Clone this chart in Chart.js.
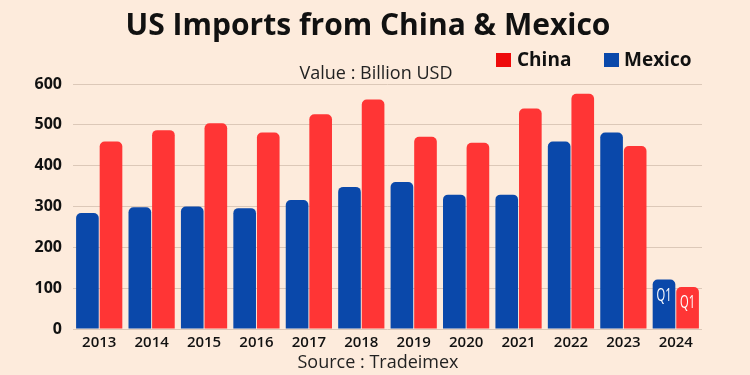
<!DOCTYPE html>
<html>
<head>
<meta charset="utf-8">
<script src="https://cdn.jsdelivr.net/npm/chart.js@4"></script>
<style>
  html, body { margin: 0; padding: 0; background: #fdebdc; }
  #wrap { width: 750px; height: 375px; position: relative; }
</style>
</head>
<body>
<div id="wrap"><canvas id="importsChart" width="750" height="375"></canvas></div>
<script>
const years = ["2013", "2014", "2015", "2016", "2017", "2018", "2019", "2020", "2021", "2022", "2023", "2024"];
const mexico = [284, 298, 300, 296, 316, 348, 360, 329, 329, 459, 481, 121];
const china = [459, 487, 504, 481, 526, 562, 471, 456, 540, 576, 448, 103];
const yTicks = [0, 100, 200, 300, 400, 500, 600];

const blue = "#0a48aa";
const red = "#ff3535";

// texts around the chart: title, unit, legend, source, and the Q1 marks
const textPlugin = {
    id: 'texts',
    afterDatasetsDraw(chart) {
        const ctx = chart.ctx;
        ctx.save();
        ctx.fillStyle = "#111";
        ctx.textAlign = "center";
        ctx.textBaseline = "middle";
        ctx.font = "bold 30px 'Open Sans'";
        ctx.fillText("US Imports from China & Mexico", 368, 26);

        ctx.font = "18px 'Open Sans'";
        ctx.fillStyle = "#222";
        ctx.fillText("Value : Billion USD", 376, 74);
        ctx.fillText("Source : Tradeimex", 378, 363);

        // legend
        ctx.textAlign = "left";
        ctx.font = "bold 19px 'Open Sans'";
        ctx.fillStyle = "#ee0a0a";
        ctx.fillRect(496, 53, 15, 14);
        ctx.fillStyle = "#111";
        ctx.fillText("China", 517, 61);
        ctx.fillStyle = blue;
        ctx.fillRect(604, 53, 15, 14);
        ctx.fillStyle = "#111";
        ctx.fillText("Mexico", 624, 61);

        // Q1 marks on the last bars (squeezed to look condensed)
        ctx.textAlign = "center";
        ctx.fillStyle = "#fff";
        ctx.font = "18px 'Open Sans'";
        chart.data.datasets.forEach(function(ds, i) {
            const bar = chart.getDatasetMeta(i).data[years.length - 1];
            ctx.save();
            ctx.translate(bar.x, bar.y + 16);
            ctx.scale(0.62, 1);
            ctx.fillText("Q1", 0, 0);
            ctx.restore();
        });
        ctx.restore();
    }
};

var ctx = document.getElementById('importsChart');

var ImportsChart = new Chart(ctx, {
    type: 'bar',
    data: {
        labels: years,
        datasets: [
            {
                label: "Mexico",
                data: mexico,
                backgroundColor: blue,
                borderRadius: { topLeft: 5, topRight: 5 },
                borderSkipped: 'start',
                categoryPercentage: 0.9,
                barPercentage: 0.96,
            },
            {
                label: "China",
                data: china,
                backgroundColor: red,
                borderRadius: { topLeft: 5, topRight: 5 },
                borderSkipped: 'start',
                categoryPercentage: 0.9,
                barPercentage: 0.96,
            },
        ]
    },
    options: {
        responsive: false,
        animation: false,
        layout: { padding: { left: 0, right: 48, top: 84, bottom: 0 } },
        plugins: {
            legend: { display: false },
            tooltip: { enabled: false },
        },
        scales: {
            y: {
                min: 0,
                max: 600,
                afterBuildTicks: function(scale) {
                    scale.ticks = yTicks.map(function(v) { return { value: v }; });
                },
                afterFit: function(scale) { scale.width = 73; },
                grid: { color: "#dcc8b8", lineWidth: 1, drawTicks: false },
                border: { display: false },
                ticks: {
                    color: "#111",
                    padding: 11,
                    font: { family: "'Open Sans'", size: 16, weight: 'bold' },
                }
            },
            x: {
                afterFit: function(scale) { scale.height = 46; },
                grid: { display: false },
                border: { display: false },
                ticks: {
                    color: "#111",
                    padding: -3,
                    maxRotation: 0,
                    font: { family: "'Open Sans'", size: 15, weight: '600' },
                }
            }
        }
    },
    plugins: [textPlugin]
});
</script>
</body>
</html>
